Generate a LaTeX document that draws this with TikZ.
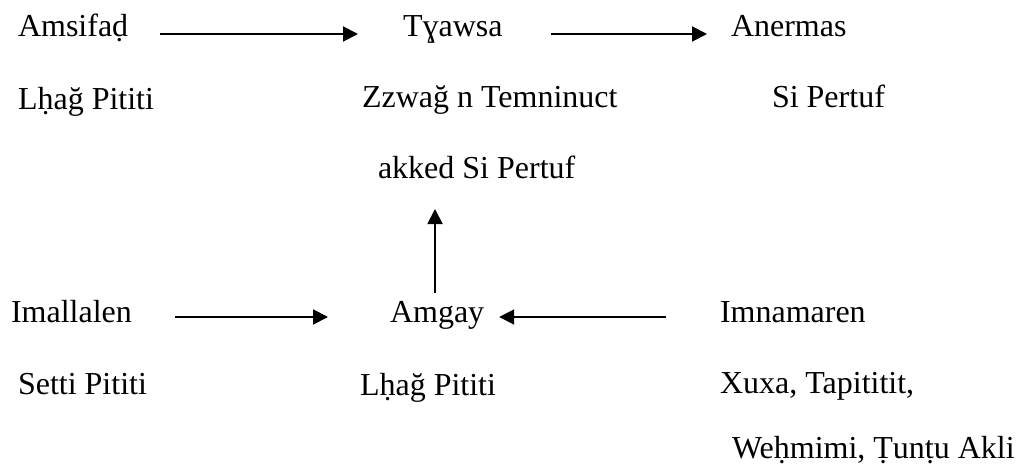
\documentclass[tikz,border=0pt]{standalone}
\usepackage{fontspec}
\setmainfont{Liberation Serif}
\usetikzlibrary{arrows.meta,calc}
\tikzset{
  lbl/.style={anchor=base west, inner sep=0pt, outer sep=0pt, font=\fontsize{32}{38}\selectfont},
  arr/.style={line width=1.9pt, -{Triangle[length=15pt,width=15pt]}}
}
\begin{document}
\begin{tikzpicture}[x=1pt,y=1pt]
\useasboundingbox (0,0) rectangle (1017,-468);

% top row
\node[lbl] (amsifad) at (18,-37) {Amsifaḍ};
\node[lbl] (lhag1) at (18,-110) {Lḥağ Pititi};
\node[lbl] (tyawsa) at (403,-37) {Tɣawsa};
\node[lbl] (zzwag) at (362,-108) {Zzwağ n Temninuct};
\node[lbl] (akked) at (378,-178) {akked Si Pertuf};
\node[lbl] (anermas) at (731,-37) {Anermas};
\node[lbl] (sipertuf) at (772,-108) {Si Pertuf};

% bottom row
\node[lbl] (imallalen) at (11,-322) {Imallalen};
\node[lbl] (setti) at (18,-394) {Setti Pititi};
\node[lbl] (amgay) at (390,-322) {Amgay};
\node[lbl] (lhag2) at (360,-395) {Lḥağ Pititi};
\node[lbl] (imnamaren) at (720,-322) {Imnamaren};
\node[lbl] (xuxa) at (720,-393) {Xuxa, Tapititit,};
\node[lbl] (wehmimi) at (732,-458) {Weḥmimi, Ṭunṭu Akli};

% connectors
\draw[arr] ($(amsifad.base east)+(32,3)$) -- ($(tyawsa.base west)+(-45,3)$);
\draw[arr] ($(tyawsa.base east)+(48,3)$) -- ($(anermas.base west)+(-24,3)$);
\draw[arr] ($(imallalen.base east)+(43,5)$) -- ($(amgay.base west)+(-62,5)$);
\draw[arr] ($(imnamaren.base west)+(-54,5)$) -- ($(amgay.base east)+(15,5)$);
\draw[arr] ($(amgay.base west)+(45,29)$) -- ($(akked.base -| amgay.base west)+(45,-31)$);
\end{tikzpicture}
\end{document}
